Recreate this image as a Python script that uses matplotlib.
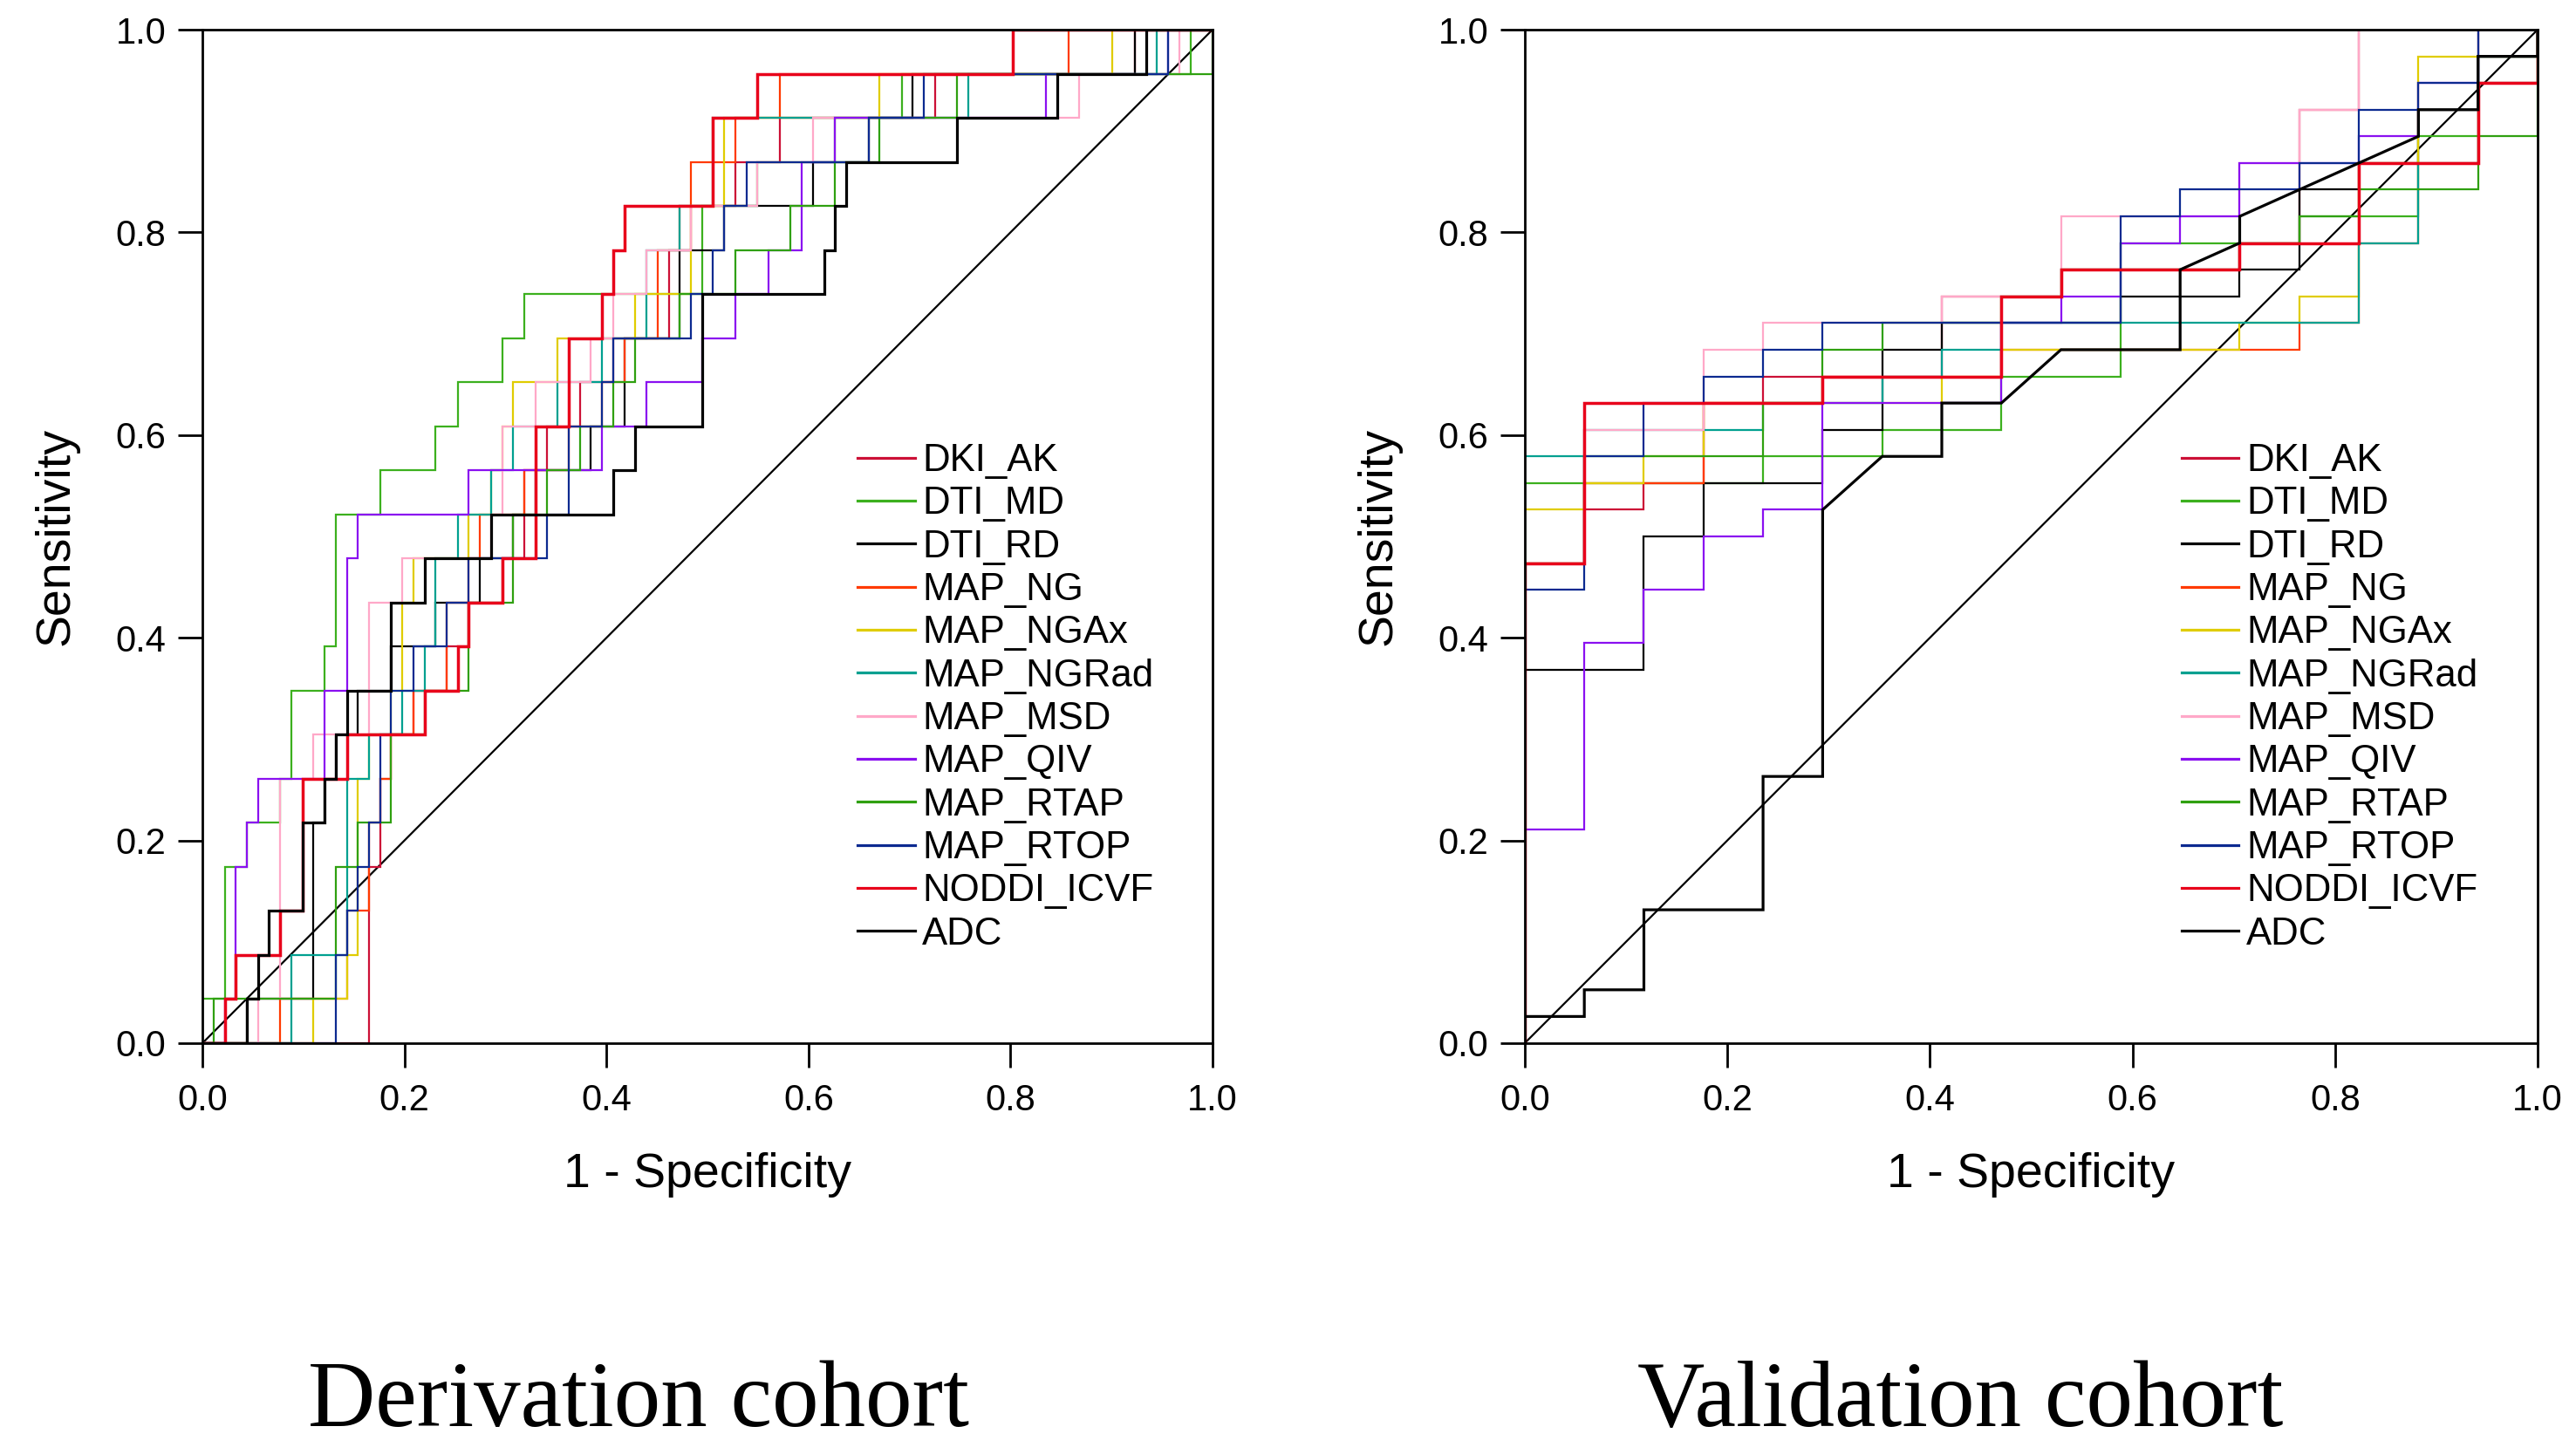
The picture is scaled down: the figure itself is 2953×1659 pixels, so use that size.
import matplotlib
matplotlib.use("Agg")
import matplotlib.pyplot as plt
import numpy as np

plt.rcParams['font.family'] = ['Liberation Sans', 'DejaVu Sans']

# ---------------- data (vertices of step ROC curves) -------------
# Derivation cohort: x index over N_NEG_DER, y index over N_POS_DER
N_NEG_DER = 91
N_POS_DER = 23
# Validation cohort: x index over N_NEG_VAL, y index over N_POS_VAL
N_NEG_VAL = 17
N_POS_VAL = 38

series_names = ["DKI_AK", "DTI_MD", "DTI_RD", "MAP_NG", "MAP_NGAx", "MAP_NGRad",
                "MAP_MSD", "MAP_QIV", "MAP_RTAP", "MAP_RTOP", "NODDI_ICVF", "ADC"]
series_colors = ["#cc1036", "#3cb01e", "#000000", "#ff3a00", "#e0cc00", "#00a090",
                 "#ffa8c8", "#8a10f0", "#2fa010", "#0c2a90", "#e8001a", "#000000"]
series_widths = [1.6, 1.6, 1.6, 1.6, 1.6, 1.6, 1.6, 1.6, 1.6, 1.6, 2.5, 2.3]

der_DKI_AK = [(0,0),(15,0),(15,4),(16,4),(16,6),(17,6),(17,7),(19,7),(19,8),(22,8),(22,9),(24,9),(24,10),(27,10),(27,11),(29,11),(29,13),(31,13),(31,14),(34,14),(34,15),(37,15),(37,16),(42,16),(42,18),(44,18),(44,19),(48,19),(48,20),(52,20),(52,21),(66,21),(66,22),(84,22),(84,23),(91,23)]
der_DTI_MD = [(0,0),(0,1),(2,1),(2,4),(4,4),(4,5),(7,5),(7,6),(8,6),(8,8),(11,8),(11,9),(12,9),(12,12),(16,12),(16,13),(21,13),(21,14),(23,14),(23,15),(27,15),(27,16),(29,16),(29,17),(45,17),(45,19),(50,19),(50,20),(57,20),(57,21),(63,21),(63,22),(89,22),(89,23),(91,23)]
der_DTI_RD = [(0,0),(4,0),(4,1),(10,1),(10,5),(11,5),(11,6),(12,6),(12,7),(14,7),(14,8),(17,8),(17,9),(21,9),(21,10),(25,10),(25,11),(28,11),(28,12),(30,12),(30,13),(35,13),(35,14),(38,14),(38,16),(43,16),(43,18),(47,18),(47,19),(55,19),(55,20),(60,20),(60,21),(64,21),(64,22),(84,22),(84,23),(91,23)]
der_MAP_NG = [(0,0),(7,0),(7,1),(13,1),(13,3),(15,3),(15,5),(16,5),(16,6),(17,6),(17,7),(19,7),(19,8),(22,8),(22,10),(24,10),(24,11),(25,11),(25,12),(29,12),(29,13),(33,13),(33,14),(36,14),(36,15),(38,15),(38,16),(41,16),(41,18),(43,18),(43,19),(44,19),(44,20),(48,20),(48,21),(52,21),(52,22),(78,22),(78,23),(91,23)]
der_MAP_NGAx = [(0,0),(10,0),(10,1),(13,1),(13,2),(14,2),(14,6),(15,6),(15,7),(17,7),(17,8),(18,8),(18,10),(19,10),(19,11),(24,11),(24,12),(26,12),(26,13),(27,13),(27,14),(28,14),(28,15),(32,15),(32,16),(39,16),(39,17),(44,17),(44,19),(47,19),(47,21),(61,21),(61,22),(82,22),(82,23),(91,23)]
der_MAP_NGRad = [(0,0),(8,0),(8,2),(13,2),(13,6),(15,6),(15,7),(18,7),(18,8),(20,8),(20,9),(21,9),(21,11),(23,11),(23,12),(26,12),(26,13),(28,13),(28,14),(32,14),(32,15),(36,15),(36,16),(40,16),(40,18),(43,18),(43,19),(46,19),(46,21),(69,21),(69,22),(86,22),(86,23),(91,23)]
der_MAP_MSD = [(0,0),(5,0),(5,1),(7,1),(7,6),(10,6),(10,7),(15,7),(15,10),(18,10),(18,11),(26,11),(26,12),(27,12),(27,14),(30,14),(30,15),(35,15),(35,16),(37,16),(37,17),(40,17),(40,18),(44,18),(44,19),(50,19),(50,20),(55,20),(55,21),(79,21),(79,22),(88,22),(88,23),(91,23)]
der_MAP_QIV = [(0,0),(2,0),(2,1),(3,1),(3,4),(4,4),(4,5),(5,5),(5,6),(11,6),(11,8),(13,8),(13,11),(14,11),(14,12),(24,12),(24,13),(36,13),(36,14),(40,14),(40,15),(45,15),(45,16),(48,16),(48,17),(51,17),(51,18),(54,18),(54,20),(57,20),(57,21),(76,21),(76,22),(87,22),(87,23),(91,23)]
der_MAP_RTAP = [(0,0),(1,0),(1,1),(12,1),(12,4),(14,4),(14,5),(17,5),(17,7),(20,7),(20,8),(24,8),(24,10),(28,10),(28,12),(31,12),(31,13),(34,13),(34,14),(37,14),(37,15),(39,15),(39,16),(43,16),(43,17),(48,17),(48,18),(53,18),(53,19),(57,19),(57,20),(61,20),(61,21),(68,21),(68,22),(91,22),(91,23)]
der_MAP_RTOP = [(0,0),(12,0),(12,2),(13,2),(13,3),(14,3),(14,4),(15,4),(15,5),(16,5),(16,7),(17,7),(17,8),(19,8),(19,9),(22,9),(22,10),(24,10),(24,11),(31,11),(31,12),(33,12),(33,14),(36,14),(36,15),(37,15),(37,16),(44,16),(44,17),(46,17),(46,18),(47,18),(47,19),(49,19),(49,20),(60,20),(60,21),(65,21),(65,22),(87,22),(87,23),(91,23)]
der_NODDI_ICVF = [(0,0),(2,0),(2,1),(3,1),(3,2),(7,2),(7,3),(9,3),(9,6),(13,6),(13,7),(20,7),(20,8),(23,8),(23,9),(24,9),(24,10),(27,10),(27,11),(30,11),(30,14),(33,14),(33,16),(36,16),(36,17),(37,17),(37,18),(38,18),(38,19),(46,19),(46,21),(50,21),(50,22),(73,22),(73,23),(91,23)]
der_ADC = [(0,0),(4,0),(4,1),(5,1),(5,2),(6,2),(6,3),(9,3),(9,5),(11,5),(11,6),(12,6),(12,7),(13,7),(13,8),(17,8),(17,10),(20,10),(20,11),(26,11),(26,12),(37,12),(37,13),(39,13),(39,14),(45,14),(45,17),(56,17),(56,18),(57,18),(57,19),(58,19),(58,20),(68,20),(68,21),(77,21),(77,22),(85,22),(85,23),(91,23)]

val_DKI_AK = [(0,0),(0,18),(1,18),(1,20),(2,20),(2,21),(3,21),(3,24),(4,24),(4,25),(7,25),(7,28),(9,28),(9,29),(12,29),(12,30),(13,30),(13,35),(14,35),(14,38),(17,38)]
val_DTI_MD = [(0,0),(0,21),(4,21),(4,22),(6,22),(6,23),(8,23),(8,25),(10,25),(10,30),(13,30),(13,31),(15,31),(15,34),(16,34),(16,37),(17,37),(17,38)]
val_DTI_RD = [(0,0),(0,14),(2,14),(2,19),(3,19),(3,21),(5,21),(5,23),(6,23),(6,26),(7,26),(7,27),(10,27),(10,28),(12,28),(12,29),(13,29),(13,32),(14,32),(14,33),(15,33),(15,35),(16,35),(16,37),(17,37),(17,38)]
val_MAP_NG = [(0,0),(0,18),(1,18),(1,21),(3,21),(3,24),(5,24),(5,25),(8,25),(8,26),(13,26),(13,27),(14,27),(14,30),(15,30),(15,33),(16,33),(16,36),(17,36),(17,38)]
val_MAP_NGAx = [(0,0),(0,20),(1,20),(1,21),(2,21),(2,22),(3,22),(3,24),(7,24),(7,25),(8,25),(8,26),(12,26),(12,27),(13,27),(13,28),(14,28),(14,33),(15,33),(15,37),(16,37),(16,38),(17,38)]
val_MAP_NGRad = [(0,0),(0,22),(1,22),(1,23),(4,23),(4,24),(6,24),(6,25),(7,25),(7,26),(8,26),(8,27),(14,27),(14,30),(15,30),(15,33),(16,33),(16,36),(17,36),(17,38)]
val_MAP_MSD = [(0,0),(0,18),(1,18),(1,23),(3,23),(3,26),(4,26),(4,27),(7,27),(7,28),(9,28),(9,31),(12,31),(12,33),(13,33),(13,35),(14,35),(14,38),(17,38)]
val_MAP_QIV = [(0,0),(0,8),(1,8),(1,15),(2,15),(2,17),(3,17),(3,19),(4,19),(4,20),(5,20),(5,24),(8,24),(8,27),(9,27),(9,28),(10,28),(10,30),(11,30),(11,31),(12,31),(12,33),(14,33),(14,34),(15,34),(15,36),(16,36),(16,38),(17,38)]
val_MAP_RTAP = [(0,0),(0,18),(1,18),(1,22),(4,22),(4,24),(5,24),(5,26),(6,26),(6,27),(8,27),(8,28),(9,28),(9,29),(12,29),(12,30),(13,30),(13,31),(14,31),(14,32),(16,32),(16,34),(17,34),(17,38)]
val_MAP_RTOP = [(0,0),(0,17),(1,17),(1,22),(2,22),(2,24),(3,24),(3,25),(4,25),(4,26),(5,26),(5,27),(10,27),(10,31),(11,31),(11,32),(13,32),(13,33),(14,33),(14,35),(15,35),(15,36),(16,36),(16,38),(17,38)]
val_NODDI_ICVF = [(0,0),(0,18),(1,18),(1,24),(5,24),(5,25),(8,25),(8,28),(9,28),(9,29),(12,29),(12,30),(14,30),(14,33),(16,33),(16,36),(17,36),(17,38)]
val_ADC = [(0,0),(0,1),(1,1),(1,2),(2,2),(2,5),(4,5),(4,10),(5,10),(5,20),(6,22),(7,22),(7,24),(8,24),(9,26),(11,26),(11,29),(12,30),(12,31),(15,34),(15,35),(16,35),(16,37),(17,37),(17,38)]

der_series = [der_DKI_AK, der_DTI_MD, der_DTI_RD, der_MAP_NG, der_MAP_NGAx, der_MAP_NGRad,
              der_MAP_MSD, der_MAP_QIV, der_MAP_RTAP, der_MAP_RTOP, der_NODDI_ICVF, der_ADC]
val_series = [val_DKI_AK, val_DTI_MD, val_DTI_RD, val_MAP_NG, val_MAP_NGAx, val_MAP_NGRad,
              val_MAP_MSD, val_MAP_QIV, val_MAP_RTAP, val_MAP_RTOP, val_NODDI_ICVF, val_ADC]

tick_values = [0.0, 0.2, 0.4, 0.6, 0.8, 1.0]
tick_labels = ["0.0", "0.2", "0.4", "0.6", "0.8", "1.0"]
ref_line = [0.0, 1.0]
panel_titles = ["Derivation cohort", "Validation cohort"]
x_label = "1 - Specificity"
y_label = "Sensitivity"

# ---------------- figure ----------------
fig = plt.figure(figsize=(29.53, 16.59), dpi=100)
ax1 = fig.add_axes([0.0786, 0.2791, 0.3921, 0.7004])
ax2 = fig.add_axes([0.5919, 0.2791, 0.3932, 0.7004])


def draw_panel(ax, series, n_neg, n_pos):
    ax.plot(ref_line, ref_line, color="black", lw=1.6, zorder=1)
    for pts, name, col, lw in zip(series, series_names, series_colors, series_widths):
        arr = np.array(pts, dtype=float)
        ax.plot(arr[:, 0] / n_neg, arr[:, 1] / n_pos, color=col, lw=lw,
                label=name, solid_joinstyle="miter", zorder=2)
    ax.set_xlim(0, 1)
    ax.set_ylim(0, 1)
    ax.set_xticks(tick_values)
    ax.set_xticklabels(tick_labels)
    ax.set_yticks(tick_values)
    ax.set_yticklabels(tick_labels)
    ax.tick_params(axis="both", direction="out", length=20, width=2.0,
                   labelsize=30, color="black")
    ax.tick_params(axis="x", pad=13)
    ax.tick_params(axis="y", pad=10)
    for sp in ax.spines.values():
        sp.set_linewidth(2.0)
        sp.set_zorder(5)
    ax.set_xlabel(x_label, fontsize=40)
    ax.set_ylabel(y_label, fontsize=40)
    ax.xaxis.set_label_coords(0.5, -0.108)
    ax.yaxis.set_label_coords(-0.122, 0.5)
    leg = ax.legend(loc="upper left", bbox_to_anchor=(0.6485, 0.592), frameon=False,
                    fontsize=31.5, handlelength=1.5, handletextpad=0.2,
                    labelspacing=0.19, borderpad=0.0, borderaxespad=0.0)
    for line in leg.get_lines():
        line.set_linewidth(2.3)


draw_panel(ax1, der_series, N_NEG_DER, N_POS_DER)
draw_panel(ax2, val_series, N_NEG_VAL, N_POS_VAL)

fig.text(0.2478, 0.0145, panel_titles[0], ha="center", va="baseline", fontsize=77,
         family=["Liberation Serif", "DejaVu Serif"])
fig.text(0.761, 0.0145, panel_titles[1], ha="center", va="baseline", fontsize=77,
         family=["Liberation Serif", "DejaVu Serif"])

fig.savefig("out.png", dpi=100, facecolor="white")
